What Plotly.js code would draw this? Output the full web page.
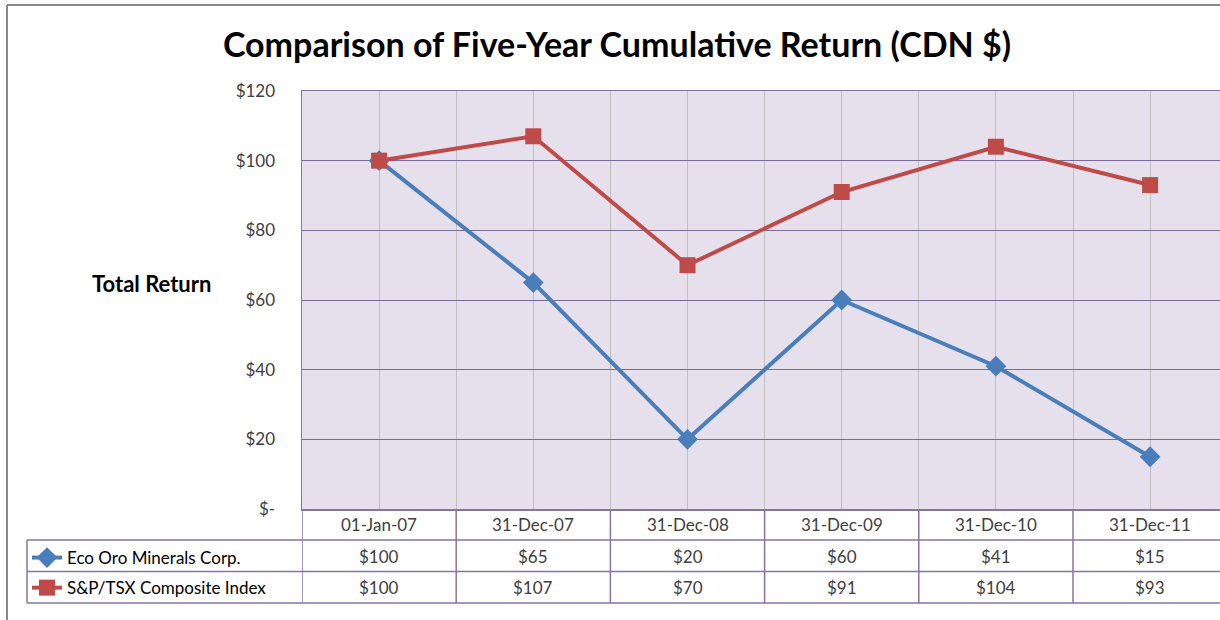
<!DOCTYPE html>
<html><head><meta charset="utf-8">
<script src="https://cdn.plot.ly/plotly-3.0.1.min.js"></script>
<style>html,body{margin:0;padding:0;overflow:hidden;background:#fff}#chart{width:1220px;height:620px}</style>
</head><body><div id="chart"></div>
<script>
// ---- data ----
const dates = ['01-Jan-07','31-Dec-07','31-Dec-08','31-Dec-09','31-Dec-10','31-Dec-11'];
const ecoOro = [100, 65, 20, 60, 41, 15];
const spTsx = [100, 107, 70, 91, 104, 93];
const seriesNames = ['Eco Oro Minerals Corp.', 'S&P/TSX Composite Index'];
const yTickVals = [0, 20, 40, 60, 80, 100, 120];
const yTickText = ['$-', '$20', '$40', '$60', '$80', '$100', '$120'];

// ---- styling ----
const FONT = 'Lato, "Open Sans", sans-serif';
const PURPLE = '#8575a7';
const TXT = '#404040';
const xIdx = dates.map((d, i) => i);

// plot area px: left 302, top 91, bottom 509 (height 418)
const H = 418, W = 918, L = 302, B = 509;
const py = p => (B - p) / H;   // pixel y -> paper y
const px = p => (p - L) / W;   // pixel x -> paper x

const rowTop = [py(509), py(540), py(571.5), py(603)];
const rowMid = [py(524), py(556), py(587)];

const traces = [
  {x: xIdx, y: ecoOro, name: seriesNames[0], type: 'scatter', mode: 'lines+markers',
   legendgroup: 'a',
   line: {color: '#4a7ebb', width: 4}, marker: {symbol: 'diamond', size: 16, color: '#4a7ebb'}},
  {x: xIdx, y: spTsx, name: seriesNames[1], type: 'scatter', mode: 'lines+markers',
   legendgroup: 'b',
   line: {color: '#be4b48', width: 4}, marker: {symbol: 'square', size: 16, color: '#be4b48'}}
];

const shapes = [];
// outer chart border (top & left)
shapes.push({type: 'line', xref: 'paper', yref: 'paper', x0: px(7), x1: 1.2, y0: py(5), y1: py(5), line: {color: '#888888', width: 2}});
shapes.push({type: 'line', xref: 'paper', yref: 'paper', x0: px(7), x1: px(7), y0: py(5), y1: py(640), line: {color: '#888888', width: 2}});
// table horizontal lines
[rowTop[1], rowTop[2], rowTop[3]].forEach(y => shapes.push({type: 'line', xref: 'paper', yref: 'paper', x0: px(27), x1: 1.05, y0: y, y1: y, line: {color: PURPLE, width: 1.5}}));
// legend column left edge
shapes.push({type: 'line', xref: 'paper', yref: 'paper', x0: px(27), x1: px(27), y0: rowTop[1], y1: rowTop[3], line: {color: PURPLE, width: 1.5}});
// column separators
for (let i = 0; i <= dates.length; i++) {
  shapes.push({type: 'line', xref: 'x', yref: 'paper', x0: i - 0.5, x1: i - 0.5, y0: 0, y1: rowTop[3], line: {color: PURPLE, width: 1.5}});
}

const annotations = [];
annotations.push({xref: 'paper', yref: 'paper', x: px(151), y: py(283), text: '<b>Total Return</b>', showarrow: false,
  font: {family: FONT, size: 22, color: '#000'}, xanchor: 'center', yanchor: 'middle'});
dates.forEach((d, i) => {
  annotations.push({xref: 'x', yref: 'paper', x: i, y: rowMid[0], text: d, showarrow: false, font: {family: FONT, size: 17, color: TXT}, yanchor: 'middle'});
  annotations.push({xref: 'x', yref: 'paper', x: i, y: rowMid[1], text: '$' + ecoOro[i], showarrow: false, font: {family: FONT, size: 17, color: TXT}, yanchor: 'middle'});
  annotations.push({xref: 'x', yref: 'paper', x: i, y: rowMid[2], text: '$' + spTsx[i], showarrow: false, font: {family: FONT, size: 17, color: TXT}, yanchor: 'middle'});
});

const layout = {
  width: 1220, height: 620,
  margin: {l: L, r: 0, t: 91, b: 620 - B, autoexpand: false},
  paper_bgcolor: '#ffffff', plot_bgcolor: '#e5e0ec',
  title: {text: '<b>Comparison of Five-Year Cumulative Return (CDN $)</b>', xref: 'container', x: 617 / 1220, xanchor: 'center',
    yref: 'container', y: 1 - 45 / 620, yanchor: 'middle', font: {family: FONT, size: 34, color: '#000'}},
  showlegend: true,
  legend: {x: px(27), xanchor: 'left', y: rowTop[1], yanchor: 'top', bgcolor: 'rgba(0,0,0,0)', borderwidth: 0,
    font: {family: FONT, size: 17, color: '#000'}, tracegroupgap: 5, traceorder: 'grouped'},
  xaxis: {range: [-0.5, (1220 - L) / 154.2 - 0.5], tick0: -0.5, dtick: 0.5, showgrid: true, gridcolor: '#c0c0c0', gridwidth: 1,
    showticklabels: false, ticks: '', zeroline: false, showline: true, linecolor: PURPLE, linewidth: 1.5, mirror: true, fixedrange: true},
  yaxis: {range: [0, 120], tickvals: yTickVals, ticktext: yTickText, showgrid: true, gridcolor: '#7b6b9d', gridwidth: 1,
    ticks: '', ticklabelstandoff: 22, tickfont: {family: FONT, size: 17, color: TXT}, zeroline: false,
    showline: true, linecolor: PURPLE, linewidth: 1.5, fixedrange: true},
  shapes: shapes,
  annotations: annotations
};

Plotly.newPlot('chart', traces, layout, {displayModeBar: false, staticPlot: true});
</script></body></html>
